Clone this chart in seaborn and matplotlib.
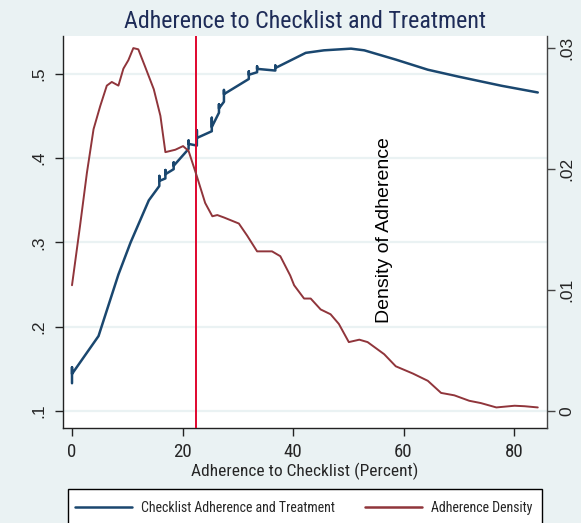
import matplotlib
matplotlib.use("Agg")
import matplotlib.pyplot as plt
import seaborn as sns
import numpy as np
import pandas as pd
from matplotlib.lines import Line2D
from matplotlib.patches import Rectangle
from matplotlib import font_manager as fm

# ---- data ----
blue_x = [0, 0, 0, 4.8, 8.4, 10.6, 13.9, 15.8, 15.8, 15.8, 16.9, 16.9, 16.9,
          18.4, 18.4, 18.4, 21.1, 21.1, 21.1, 22.6, 22.6, 22.6, 25.3, 25.3,
          25.3, 26.6, 26.6, 26.6, 27.5, 27.5, 27.5, 32.0, 32.0, 32.0, 33.5,
          33.5, 33.5, 36.8, 36.8, 36.8, 42.3, 45.6, 50.5, 52.9, 58.6, 64.4,
          69.8, 77.7, 84.3]
blue_y = [0.133, 0.152, 0.144, 0.189, 0.262, 0.300, 0.350, 0.367, 0.379,
          0.373, 0.376, 0.386, 0.381, 0.387, 0.395, 0.391, 0.411, 0.421,
          0.417, 0.415, 0.433, 0.424, 0.432, 0.448, 0.437, 0.454, 0.464,
          0.459, 0.467, 0.481, 0.476, 0.494, 0.503, 0.499, 0.502, 0.509,
          0.506, 0.504, 0.510, 0.507, 0.525, 0.528, 0.530, 0.528, 0.517,
          0.505, 0.497, 0.486, 0.478]

dens_x = [0, 1.45, 2.7, 3.9, 5.1, 6.3, 7.2, 8.4, 9.3, 10.2, 11.1, 12.0, 13.2,
          14.8, 16.0, 16.9, 18.7, 20.1, 21.1, 22.6, 24.1, 25.4, 26.3, 27.5,
          30.2, 31.7, 33.5, 36.2, 37.7, 39.5, 40.2, 42.0, 43.2, 45.0, 46.8,
          48.3, 50.1, 52.0, 53.5, 56.5, 58.6, 61.7, 64.4, 66.8, 69.2, 71.9,
          74.0, 76.8, 80.1, 81.9, 84.3]
dens_y = [0.0104, 0.0153, 0.0197, 0.0233, 0.0252, 0.0269, 0.0272, 0.0269,
          0.0283, 0.0290, 0.0300, 0.0299, 0.0285, 0.0266, 0.0244, 0.0214,
          0.0216, 0.0219, 0.0215, 0.0194, 0.0172, 0.0161, 0.0162, 0.0160,
          0.0155, 0.0145, 0.0132, 0.0132, 0.0128, 0.0112, 0.0104, 0.0093,
          0.0093, 0.0084, 0.0080, 0.0072, 0.0057, 0.0059, 0.0057, 0.0047,
          0.0037, 0.0031, 0.0025, 0.0015, 0.0013, 0.00085, 0.00066, 0.0003,
          0.00044, 0.0004, 0.0003]

cutoff = 22.5

x_ticks = [0, 20, 40, 60, 80]
x_ticklabels = ["0", "20", "40", "60", "80"]
left_ticks = [0.1, 0.2, 0.3, 0.4, 0.5]
left_ticklabels = [".1", ".2", ".3", ".4", ".5"]
right_ticks = [0, 0.01, 0.02, 0.03]
right_ticklabels = ["0", ".01", ".02", ".03"]

title = "Adherence to Checklist and Treatment"
xlabel = "Adherence to Checklist (Percent)"
right_label = "Density of Adherence"
legend_labels = ["Checklist Adherence and Treatment", "Adherence Density"]

# ---- style ----
BG = "#EAF2F3"
NAVY = "#1A476F"
MAROON = "#90353B"
VRED = "#E0062E"

_names = {f.name for f in fm.fontManager.ttflist}
_narrow = None
for cand in ["Liberation Sans Narrow", "Arial Narrow", "Roboto Condensed",
             "Open Sans Condensed", "DejaVu Sans Condensed"]:
    if cand in _names:
        _narrow = cand
        break
NARROW = [_narrow or "Liberation Sans", "DejaVu Sans"]
REG = ["Liberation Sans", "DejaVu Sans"]

sns.set_theme(style="white")
plt.rcParams["font.family"] = REG

W, H = 581, 523
fig = plt.figure(figsize=(W / 100, H / 100), dpi=100, facecolor=BG)
renderer = fig.canvas.get_renderer()


def text_w(s, size, family):
    t = fig.text(0, 0, s, fontsize=size, family=family)
    w = t.get_window_extent(renderer).width
    t.remove()
    return w


def fit_size(s, target_px, family, base=12.0):
    return base * target_px / text_w(s, base, family)


ax = fig.add_axes([63 / W, 1 - 428 / H, (547 - 63) / W, (428 - 36) / H])
ax.set_facecolor("white")

blue_df = pd.DataFrame({"x": blue_x, "y": blue_y})
dens_df = pd.DataFrame({"x": dens_x, "y": dens_y})

sns.lineplot(data=blue_df, x="x", y="y", estimator=None, sort=False,
             color=NAVY, lw=1.8, ax=ax, zorder=3)
ax.axvline(cutoff, color=VRED, lw=1.4, zorder=4)

ax2 = ax.twinx()
sns.lineplot(data=dens_df, x="x", y="y", estimator=None, sort=False,
             color=MAROON, lw=1.4, ax=ax2, zorder=3)

ax.set_xlim(-1.63, 85.97)
ax.set_ylim(0.0799, 0.545)
ax2.set_ylim(-0.0014, 0.0310)

ax.set_xticks(x_ticks)
ax.set_xticklabels(x_ticklabels)
ax.set_yticks(left_ticks)
ax.set_yticklabels(left_ticklabels)
ax2.set_yticks(right_ticks)
ax2.set_yticklabels(right_ticklabels)

xl_size = fit_size(xlabel, 225, NARROW)
ax.set_xlabel(xlabel, fontsize=xl_size, family=NARROW, labelpad=1)
ax.set_ylabel("")
ax2.set_ylabel("")

ax.grid(axis="y", color=BG, lw=1.6)
ax.grid(axis="x", visible=False)
ax.set_axisbelow(True)

for s in ["top", "right"]:
    ax.spines[s].set_visible(False)
for s in ["top", "left", "bottom"]:
    ax2.spines[s].set_visible(False)
ax.spines["left"].set_color("#222222")
ax.spines["bottom"].set_color("#222222")
ax2.spines["right"].set_color("#444444")
for sp in [ax.spines["left"], ax.spines["bottom"], ax2.spines["right"]]:
    sp.set_linewidth(1.0)

xt_size = fit_size("60", 18.5, NARROW)
ax.tick_params(axis="x", direction="out", length=6, width=1, color="#222222",
               labelsize=xt_size, pad=5, bottom=True, labelfontfamily=NARROW[0])
ax.tick_params(axis="y", direction="out", length=6, width=1, color="#222222",
               labelsize=12.5, pad=6, left=True, labelrotation=90)
ax2.tick_params(axis="y", direction="out", length=6, width=1, color="#444444",
                labelsize=12.5, pad=3, right=True, labelrotation=90)
for lbl in ax.get_yticklabels():
    lbl.set_va("center")
    lbl.set_ha("right")
for lbl in ax2.get_yticklabels():
    lbl.set_va("center")
    lbl.set_ha("left")

t_size = fit_size(title, 362, NARROW)
ax.set_title(title, fontsize=t_size, family=NARROW, color="#1E2C58", pad=6)

ax.text(0.665, 0.506, right_label, transform=ax.transAxes, rotation=90,
        ha="center", va="center", fontsize=14, family=REG, color="black",
        zorder=5)

# ---- legend (frame drawn as its own box, partly below the figure edge) ----
fig.patches.append(Rectangle((68 / W, 1 - 530 / H), (542 - 68) / W, 41 / H,
                             transform=fig.transFigure, facecolor="white",
                             edgecolor="black", lw=1.0, zorder=0))
lg_size = fit_size(legend_labels[1], 102, NARROW)
f_px = lg_size * 100 / 72
t1w = text_w(legend_labels[0], lg_size, NARROW)
col_sp = (365 - (141 + t1w)) / f_px
handles = [Line2D([], [], color=NAVY, lw=1.8), Line2D([], [], color=MAROON, lw=1.8)]
leg = fig.legend(handles, legend_labels, ncol=2,
                 bbox_to_anchor=(75 / W, 1 - 508 / H),
                 loc="center left", frameon=False,
                 prop={"family": NARROW, "size": lg_size},
                 handlelength=57 / f_px, handletextpad=9 / f_px,
                 borderpad=0, borderaxespad=0, columnspacing=max(col_sp, 0.5))

fig.savefig("out.png", dpi=100, facecolor=BG)
